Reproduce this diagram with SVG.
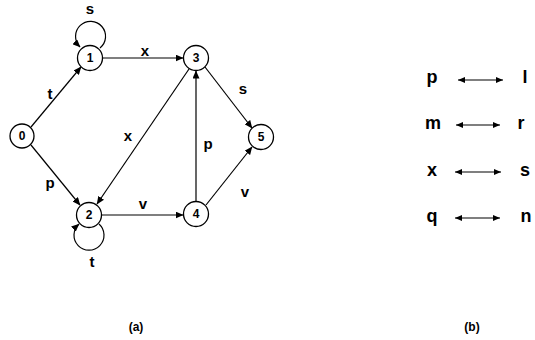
<svg xmlns="http://www.w3.org/2000/svg" width="535" height="340" viewBox="0 0 535 340">
<style>
.node circle{fill:#fff;stroke:#000;stroke-width:1.3}
.node text{font-family:"Liberation Sans",Arial,sans-serif;font-weight:bold;font-size:12px;text-anchor:middle}
.lbl{font-family:"Liberation Sans",Arial,sans-serif;font-weight:bold;font-size:15px;text-anchor:middle}
.big{font-family:"Liberation Sans",Arial,sans-serif;font-weight:bold;font-size:18px;text-anchor:middle}
.cap{font-family:"Liberation Sans",Arial,sans-serif;font-weight:bold;font-size:12px;text-anchor:middle}
.e{fill:none;stroke:#000;stroke-width:1.2;marker-end:url(#ah)}
.d{fill:none;stroke:#000;stroke-width:1.1;marker-end:url(#ah2);marker-start:url(#ah2s)}
</style>
<defs>
<marker id="ah" markerWidth="8" markerHeight="7" refX="7.5" refY="3.5" orient="auto" markerUnits="userSpaceOnUse">
<path d="M0,0 L8,3.5 L0,7 Z" fill="#000"/>
</marker>
<marker id="ah2" markerWidth="7" markerHeight="6" refX="7" refY="3" orient="auto" markerUnits="userSpaceOnUse">
<path d="M0,0 L7,3 L0,6 Z" fill="#000"/>
</marker>
<marker id="ah2s" markerWidth="7" markerHeight="6" refX="0" refY="3" orient="auto" markerUnits="userSpaceOnUse">
<path d="M7,0 L0,3 L7,6 Z" fill="#000"/>
</marker>
</defs>
<g id="connectors">
<path class="e" d="M31,127 L81,67"/>
<path class="e" d="M31,145 L80,205"/>
<path class="e" d="M103,58 L183,58"/>
<path class="e" d="M189,69 L97,204"/>
<path class="e" d="M102,215 L183,215"/>
<path class="e" d="M196,201 L196,71"/>
<path class="e" d="M205,67 L252,128"/>
<path class="e" d="M206,205 L252,147"/>
<path class="e" d="M100,48 A15 15 0 1 0 80,47"/>
<path class="e" d="M99,224 A15 15 0 1 1 79,224"/>
<text class="lbl" x="50" y="99">t</text>
<text class="lbl" x="90" y="14">s</text>
<text class="lbl" x="145" y="56">x</text>
<text class="lbl" x="128" y="141">x</text>
<text class="lbl" x="50" y="188">p</text>
<text class="lbl" x="92" y="267">t</text>
<text class="lbl" x="143" y="209">v</text>
<text class="lbl" x="208" y="149">p</text>
<text class="lbl" x="243" y="94">s</text>
<text class="lbl" x="245" y="197">v</text>
</g>
<g id="n0" class="node"><circle cx="22" cy="136" r="12"/><text x="22" y="140">0</text></g>
<g id="n1" class="node"><circle cx="90" cy="58" r="12.5"/><text x="90" y="62">1</text></g>
<g id="n2" class="node"><circle cx="89" cy="215" r="12.5"/><text x="89" y="219">2</text></g>
<g id="n3" class="node"><circle cx="196" cy="58" r="12.5"/><text x="196" y="62">3</text></g>
<g id="n4" class="node"><circle cx="196" cy="214" r="12.5"/><text x="196" y="218">4</text></g>
<g id="n5" class="node"><circle cx="261" cy="137" r="12.5"/><text x="261" y="141">5</text></g>
<g id="mapping">
<text class="big" x="432" y="83">p</text>
<path class="d" d="M458,80 L503,80"/>
<text class="big" x="525" y="83">l</text>
<text class="big" x="433" y="129">m</text>
<path class="d" d="M456,125 L500,125"/>
<text class="big" x="521" y="129">r</text>
<text class="big" x="432" y="176">x</text>
<path class="d" d="M455,172 L501,172"/>
<text class="big" x="525" y="176">s</text>
<text class="big" x="432" y="222">q</text>
<path class="d" d="M455,218 L500,218"/>
<text class="big" x="526" y="222">n</text>
</g>
<text class="cap" x="136" y="331">(a)</text>
<text class="cap" x="472" y="331">(b)</text>
</svg>
